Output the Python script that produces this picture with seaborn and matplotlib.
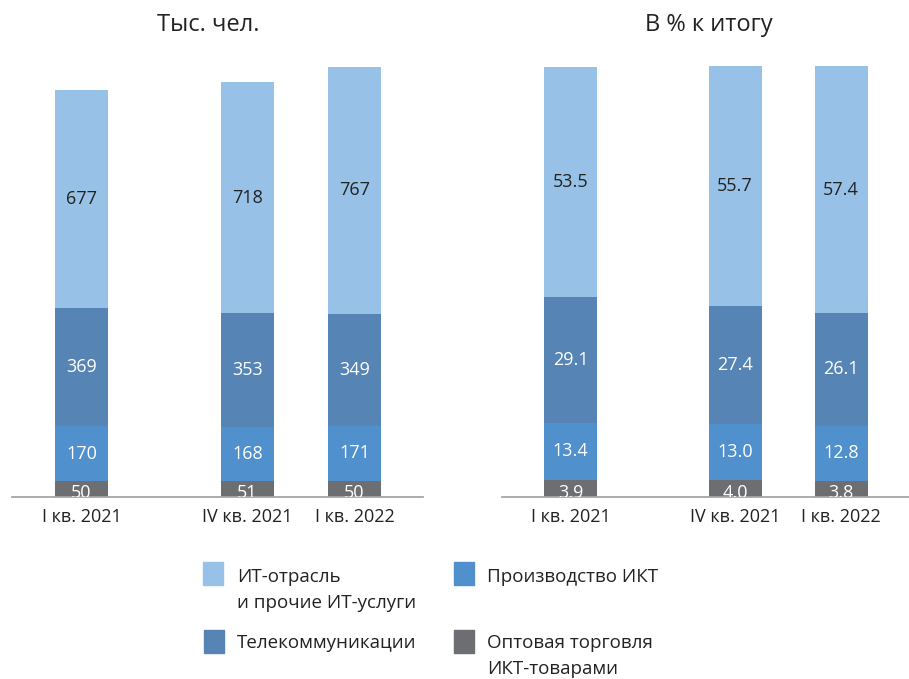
import numpy as np
import pandas as pd
import matplotlib
matplotlib.use("Agg")
import matplotlib.pyplot as plt
import seaborn as sns
from matplotlib.patches import Rectangle

# ---- data ----
quarters = ["I кв. 2021", "IV кв. 2021", "I кв. 2022"]
series_names = ["Оптовая торговля\nИКТ-товарами", "Производство ИКТ",
                "Телекоммуникации", "ИТ-отрасль\nи прочие ИТ-услуги"]
abs_wholesale = [50, 51, 50]
abs_production = [170, 168, 171]
abs_telecom = [369, 353, 349]
abs_it = [677, 718, 767]
pct_wholesale = [3.9, 4.0, 3.8]
pct_production = [13.4, 13.0, 12.8]
pct_telecom = [29.1, 27.4, 26.1]
pct_it = [53.5, 55.7, 57.4]
panel_titles = ["Тыс. чел.", "В % к итогу"]

# ---- layout / style ----
xpos = [0.0, 1.55, 2.55]
colors = ["#6D6E71", "#4F90CD", "#5684B4", "#97C1E6"]
label_colors = ["white", "white", "white", "#222222"]

sns.set_theme(style="white")
plt.rcParams["font.family"] = ["Open Sans", "DejaVu Sans"]

fig = plt.figure(figsize=(9.09, 6.79), dpi=100)
W, H = 909, 679
base_y = 497
top_y = 60

def add_axes(x0, x1):
    return fig.add_axes([x0 / W, (H - base_y) / H, (x1 - x0) / W, (base_y - top_y) / H])

ax_l = add_axes(12, 423)
ax_r = add_axes(502, 909)

panels = [
    (ax_l, [abs_wholesale, abs_production, abs_telecom, abs_it], 1359, "{:.0f}"),
    (ax_r, [pct_wholesale, pct_production, pct_telecom, pct_it], 101.6, "{:.1f}"),
]

for ax, series, ymax, fmt in panels:
    arr = np.array(series, dtype=float)
    cum = np.cumsum(arr, axis=0)
    # draw from the top stack down so lower segments overlay
    for i in range(len(series) - 1, -1, -1):
        df = pd.DataFrame({"x": xpos, "y": cum[i]})
        sns.barplot(data=df, x="x", y="y", native_scale=True, width=0.5,
                    color=colors[i], saturation=1, errorbar=None,
                    linewidth=0, ax=ax)
    for i in range(len(series)):
        for j, xp in enumerate(xpos):
            bottom = cum[i][j] - arr[i][j]
            yc = bottom + arr[i][j] / 2
            if i == 0:
                yc = bottom + arr[i][j] * 0.25
            ax.text(xp, yc, fmt.format(arr[i][j]), ha="center", va="center",
                    fontsize=13, color=label_colors[i], clip_on=True)
    ax.set_xlim(-0.648, 3.19)
    ax.set_ylim(0, ymax)
    ax.set_xticks(xpos)
    ax.set_xticklabels(quarters, fontsize=13, color="#222222")
    ax.tick_params(axis="x", length=0, pad=8)
    ax.set_yticks([])
    ax.set_xlabel("")
    ax.set_ylabel("")
    for s in ["top", "left", "right"]:
        ax.spines[s].set_visible(False)
    ax.spines["bottom"].set_color("#A6A6A6")
    ax.spines["bottom"].set_linewidth(1.3)
    ax.set_facecolor("white")

fig.text(208 / W, 1 - 25 / H, panel_titles[0], ha="center", va="center",
         fontsize=17, color="#222222")
fig.text(709 / W, 1 - 25 / H, panel_titles[1], ha="center", va="center",
         fontsize=17, color="#222222")

# ---- legend (manual placement) ----
legend_items = [
    (3, 203, 562, 237, 577),
    (1, 454, 562, 487, 577),
    (2, 204, 630, 237, 643),
    (0, 454, 630, 487, 643),
]
for idx, sx, sy, tx, ty in legend_items:
    fig.patches.append(Rectangle((sx / W, 1 - (sy + 23) / H), 20 / W, 23 / H,
                                 transform=fig.transFigure, color=colors[idx]))
    lines = series_names[idx].split("\n")
    for k, line in enumerate(lines):
        fig.text(tx / W, 1 - (ty + 26 * k) / H, line, ha="left", va="center",
                 fontsize=13.5, color="#222222")

fig.savefig("out.png", dpi=100, facecolor="white")
